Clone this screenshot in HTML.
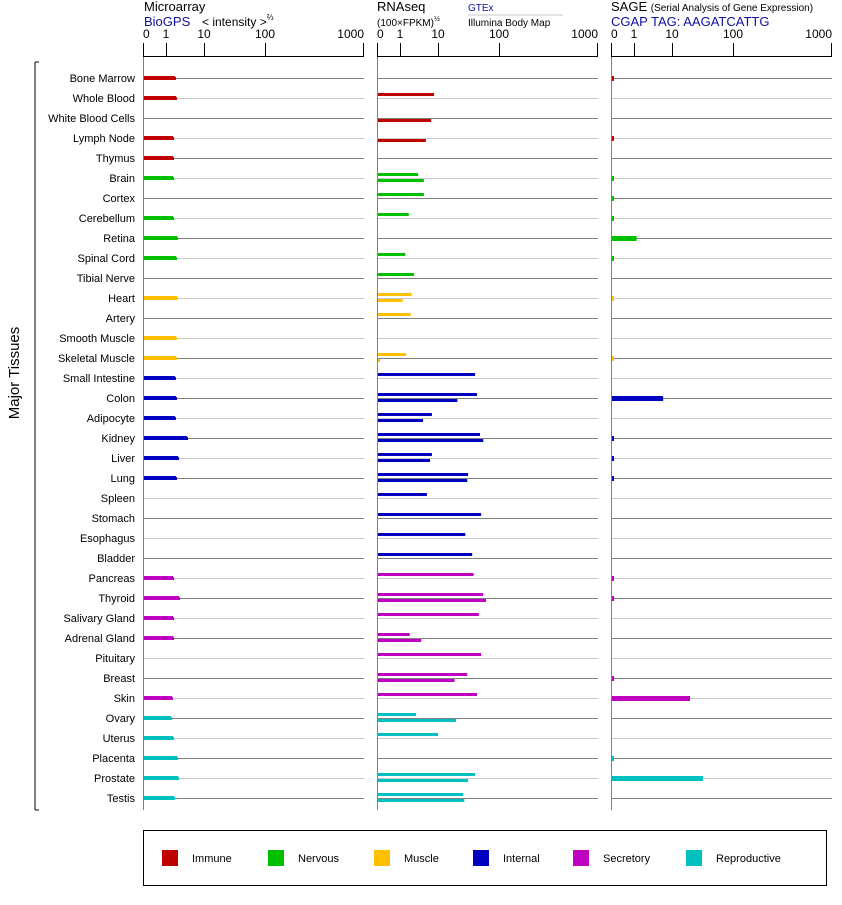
<!DOCTYPE html>
<html><head><meta charset="utf-8">
<style>
body{margin:0;background:#fff;font-family:"Liberation Sans",sans-serif;}
svg text{font-family:"Liberation Sans",sans-serif;}
</style></head>
<body>
<svg id="chart" width="842" height="900" xmlns="http://www.w3.org/2000/svg">
  <g>
    <text x="144" y="11" font-size="13" fill="#000">Microarray</text>
    <text x="144" y="26" font-size="13" fill="#1010a0">BioGPS</text>
    <text x="202" y="26" font-size="12" fill="#000">&lt; intensity &gt;<tspan font-size="8" dy="-6">⅔</tspan></text>
    <text x="377" y="11" font-size="13" fill="#000">RNAseq</text>
    <text x="377" y="26" font-size="10" fill="#000">(100×FPKM)<tspan font-size="7" dy="-5">½</tspan></text>
    <text x="468" y="11" font-size="10" fill="#1010a0">GTEx</text>
    <line x1="468" y1="15" x2="563" y2="15" stroke="#c8c8c8" stroke-width="1"/>
    <text x="468" y="26" font-size="10" fill="#000">Illumina Body Map</text>
    <text x="611" y="11" font-size="13" fill="#000">SAGE <tspan font-size="10">(Serial Analysis of Gene Expression)</tspan></text>
    <text x="611" y="26" font-size="13" fill="#1010a0">CGAP TAG: AAGATCATTG</text>
  </g>
  <g id="axes"></g>
  <g id="rows"></g>
  <g id="bars"></g>
  <g>
    <line x1="35" y1="62" x2="35" y2="810" stroke="#000" stroke-width="1"/>
    <line x1="35" y1="62" x2="39" y2="62" stroke="#000" stroke-width="1"/>
    <line x1="35" y1="810" x2="39" y2="810" stroke="#000" stroke-width="1"/>
    <text x="19" y="373" font-size="15" text-anchor="middle" transform="rotate(-90 19 373)">Major Tissues</text>
  </g>
  <g>
    <rect x="143.5" y="830.5" width="683" height="55" fill="none" stroke="#000" stroke-width="1"/>
    <g id="legend-items"></g>
  </g>
</svg>
<script>
const tissues=["Bone Marrow","Whole Blood","White Blood Cells","Lymph Node","Thymus","Brain","Cortex","Cerebellum","Retina","Spinal Cord","Tibial Nerve","Heart","Artery","Smooth Muscle","Skeletal Muscle","Small Intestine","Colon","Adipocyte","Kidney","Liver","Lung","Spleen","Stomach","Esophagus","Bladder","Pancreas","Thyroid","Salivary Gland","Adrenal Gland","Pituitary","Breast","Skin","Ovary","Uterus","Placenta","Prostate","Testis"];
const groups=[0,0,0,0,0,1,1,1,1,1,1,2,2,2,2,3,3,3,3,3,3,3,3,3,3,4,4,4,4,4,4,4,5,5,5,5,5];
const microarray=[1.62,1.72,null,1.44,1.44,1.44,null,1.44,1.83,1.72,null,1.83,null,1.72,1.72,1.62,1.72,1.62,3.36,1.95,1.72,null,null,null,null,1.44,2.07,1.44,1.44,null,null,1.35,1.27,1.44,1.83,1.95,1.53];
const gtex=[null,7.4,null,null,null,2.8,4.0,1.6,null,1.3,2.2,1.9,1.8,null,1.35,39,42,6.5,47,6.5,30,4.8,49,27,35,37,53,45,1.7,49,29,42,2.5,9.4,null,39,25];
const illumina=[null,null,6.2,4.5,null,4.0,null,null,null,null,null,1.1,null,null,0.05,null,20,3.8,53,5.8,29,null,null,null,null,null,59,null,3.4,null,18,null,19,null,null,30,26];
const sage=[0.05,null,null,0.05,null,0.05,0.05,0.05,1.1,0.05,null,0.05,null,null,0.05,null,5.5,null,0.05,0.05,0.05,null,null,null,null,0.05,0.05,null,null,null,0.05,19,null,null,0.05,31,null];
const groupNames=["Immune","Nervous","Muscle","Internal","Secretory","Reproductive"];
const tickLabels=["0","1","10","100","1000"];
const tickValues=[0,1,10,100,1000];

const colors=["#c00000","#00c000","#ffc000","#0000c0","#c000c0","#00c0c0"];
const panelX=[143,377,611];
const offs=[0,23,61,122,220];
const NS="http://www.w3.org/2000/svg";
function mk(tag,attrs,parent){const e=document.createElementNS(NS,tag);for(const k in attrs)e.setAttribute(k,attrs[k]);parent.appendChild(e);return e;}
function scale(v){
  if(v<=0)return 0;
  if(v<=1)return v*offs[1];
  const l=Math.log10(v);
  const i=Math.min(Math.floor(l),2);
  return offs[i+1]+(l-i)*(offs[i+2]-offs[i+1]);
}
function rowY(i){return 78+i*20;}

const axes=document.getElementById('axes');
const rows=document.getElementById('rows');
const bars=document.getElementById('bars');
const panelNames=["microarray","rnaseq","sage"];
panelX.forEach((x0,p)=>{
  const g=mk('g',{},axes);
  
  
  mk('line',{x1:x0,y1:56.5,x2:x0+221,y2:56.5,stroke:'#000','stroke-width':1},g);
  mk('line',{x1:x0+0.5,y1:56,x2:x0+0.5,y2:810,stroke:'#808080','stroke-width':1},g);
  tickValues.forEach((v,k)=>{
    const tx=x0+scale(v);
    const t=mk('line',{x1:tx+0.5,y1:43,x2:tx+0.5,y2:57,stroke:'#000','stroke-width':1},g);
    
    
    const lab=mk('text',{x:k==0?tx:(k==4?tx+1:tx),y:38,'font-size':12,'text-anchor':k==0?'start':(k==4?'end':'middle')},g);
    lab.textContent=tickLabels[k];
    
    
  });
});
tissues.forEach((name,i)=>{
  const y=rowY(i);
  const lab=mk('text',{x:135,y:y+4,'font-size':11,'text-anchor':'end'},rows);
  lab.textContent=name;
  
  
  panelX.forEach(x0=>{
    const l=mk('line',{x1:x0+1,y1:y+0.5,x2:x0+221,y2:y+0.5,stroke:i%2==0?'#808080':'#c8c8c8','stroke-width':1},rows);
    
    
  });
});
function bar(x0,v,y,h,color,name){
  if(v==null)return;
  let w=scale(v);
  if(w<2)w=2;
  const r=mk('rect',{x:x0+1,y:y,width:w,height:h,fill:color},bars);
  
  
}
tissues.forEach((name,i)=>{
  const y=rowY(i);const c=colors[groups[i]];
  bar(panelX[0],microarray[i],y-2,4,c,'microarray-bar');
  if(microarray[i]!=null){
    const cap=mk('rect',{x:panelX[0]+scale(microarray[i]),y:y-1,width:2,height:3,fill:c},bars);
    
    
  }
  bar(panelX[1],gtex[i],y-5,3,c,'gtex-bar');
  bar(panelX[1],illumina[i],y+1,3,c,'illumina-bar');
  bar(panelX[2],sage[i],y-2,5,c,'sage-bar');
});
const lx=[162,268,374,473,573,686];
const li=document.getElementById('legend-items');
groupNames.forEach((n,k)=>{
  const g=mk('g',{},li);
  
  
  mk('rect',{x:lx[k],y:850,width:16,height:16,fill:colors[k]},g);
  const t=mk('text',{x:lx[k]+30,y:862,'font-size':11},g);
  t.textContent=n;
});
</script>
</body></html>
